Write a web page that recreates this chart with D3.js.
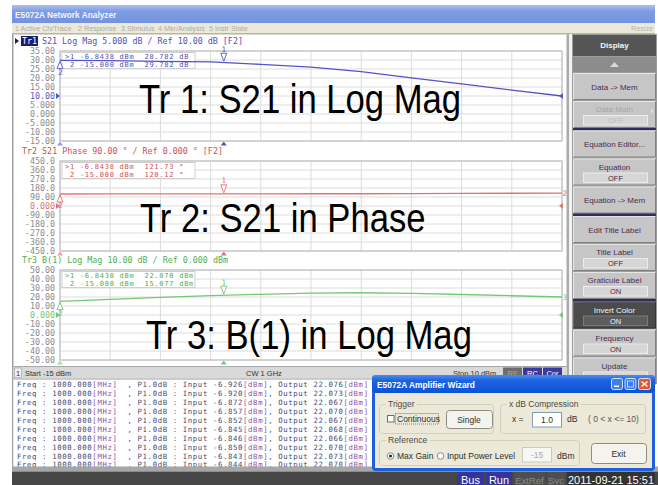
<!DOCTYPE html>
<html>
<head>
<meta charset="utf-8">
<script src="https://cdn.jsdelivr.net/npm/d3@7"></script>
<style>
body { margin: 0; background: #fff; }
svg { display: block; }
text { white-space: pre; }
</style>
</head>
<body>
<svg id="screen" width="658" height="485"></svg>
<script>
// sweep of input power (dBm) and trace values
var inputPower = [-15, -12.5, -10, -7.5, -5, -2.5, 0, 2.5, 5, 7.5, 10];
var s21Mag = [29.78, 29.6, 29.25, 28.95, 27.6, 26.0, 23.5, 20.1, 16.7, 13.3, 10.0];
var s21Phase = [120.1, 120.6, 121.1, 121.6, 122.0, 122.3, 122.6, 124.0, 126.0, 127.5, 128.5];
var b1Mag = [15.08, 17.4, 19.5, 21.6, 23.0, 24.2, 24.7, 24.1, 22.8, 21.4, 20.0];

// y tick labels, top to bottom
var tr1Labels = ['35.00', '30.00', '25.00', '20.00', '15.00', '10.00', '5.000', '0.000', '-5.000', '-10.00', '-15.00'];
var tr2Labels = ['450.0', '360.0', '270.0', '180.0', '90.00', '0.000', '-90.00', '-180.0', '-270.0', '-360.0', '-450.0'];
var tr3Labels = ['50.00', '40.00', '30.00', '20.00', '10.00', '0.000', '-10.00', '-20.00', '-30.00', '-40.00', '-50.00'];

// markers
var markerStim = [-6.8438, -15];
var markerStimLabels = ['-6.8438', '-15.000'];
var tr1Markers = ['28.782', '29.782'];
var tr2Markers = ['121.73', '120.12'];
var tr3Markers = ['22.070', '15.077'];

// P1dB log lines
var logFreq = ['1000.000', '1000.000', '1000.000', '1000.000', '1000.000', '1000.000', '1000.000', '1000.000', '1000.000', '1000.000'];
var logInput = ['-6.926', '-6.920', '-6.872', '-6.857', '-6.852', '-6.845', '-6.846', '-6.850', '-6.843', '-6.844'];
var logOutput = ['22.076', '22.073', '22.067', '22.070', '22.067', '22.068', '22.066', '22.070', '22.073', '22.070'];

var menuItems = ['1 Active Ch/Trace', '2 Response', '3 Stimulus', '4 Mkr/Analysis', '5 Instr State'];
var menuX = [15, 78, 121, 158, 209];

var softkeys = [
	{label: 'Data -> Mem'},
	{label: 'Data Math', value: 'OFF', disabled: true, sep: true},
	{label: 'Equation Editor...'},
	{label: 'Equation', value: 'OFF'},
	{label: 'Equation -> Mem', sep: true},
	{label: 'Edit Title Label'},
	{label: 'Title Label', value: 'OFF'},
	{label: 'Graticule Label', value: 'ON', sep: true},
	{label: 'Invert Color', value: 'ON', dark: true},
	{label: 'Frequency', value: 'ON'},
	{label: 'Update', value: 'ON'}
];

var mono = "'DejaVu Sans Mono', monospace";
var sans = "'Liberation Sans', Arial, sans-serif";

var svg = d3.select('#screen');
var defs = svg.append('defs');

var titleGrad = defs.append('linearGradient').attr('id', 'titleGrad').attr('x1', 0).attr('y1', 0).attr('x2', 0).attr('y2', 1);
titleGrad.append('stop').attr('offset', '0%').attr('stop-color', '#a9c0f0');
titleGrad.append('stop').attr('offset', '35%').attr('stop-color', '#7e9ce2');
titleGrad.append('stop').attr('offset', '100%').attr('stop-color', '#7393de');

var dlgGrad = defs.append('linearGradient').attr('id', 'dlgGrad').attr('x1', 0).attr('y1', 0).attr('x2', 0).attr('y2', 1);
dlgGrad.append('stop').attr('offset', '0%').attr('stop-color', '#4a8cf4');
dlgGrad.append('stop').attr('offset', '30%').attr('stop-color', '#1e63e0');
dlgGrad.append('stop').attr('offset', '100%').attr('stop-color', '#0b52d6');

// ---- window chrome ----
svg.append('rect').attr('width', 658).attr('height', 485).attr('fill', '#fff');

svg.append('rect').attr('x', 12).attr('y', 5).attr('width', 643).attr('height', 18).attr('fill', 'url(#titleGrad)');
svg.append('text').attr('x', 15).attr('y', 17.5).attr('font-family', sans).attr('font-weight', 'bold')
	.attr('font-size', 8.3).attr('fill', '#eef2fc').text('E5072A Network Analyzer');

svg.append('rect').attr('x', 12).attr('y', 23).attr('width', 643).attr('height', 10).attr('fill', '#ece9d8');
svg.selectAll('.menu').data(menuItems).enter().append('text')
	.attr('x', function(d, i) { return menuX[i]; })
	.attr('y', 31)
	.attr('font-family', sans).attr('font-size', 7.2).attr('fill', '#ababab')
	.text(function(d) { return d; });
svg.append('text').attr('x', 653).attr('y', 31).attr('text-anchor', 'end')
	.attr('font-family', sans).attr('font-size', 7.2).attr('fill', '#b4b4b4').text('Resize');
svg.append('rect').attr('x', 12).attr('y', 33).attr('width', 643).attr('height', 1.5).attr('fill', '#b8b5a8');

// left frame
svg.append('rect').attr('x', 12).attr('y', 34).attr('width', 1.5).attr('height', 437).attr('fill', '#a0a0a0');
// strip next to the softkeys
svg.append('rect').attr('x', 566.5).attr('y', 34).attr('width', 2.5).attr('height', 346).attr('fill', '#ababab');

// ---- traces ----
var x = d3.scaleLinear().domain([-15, 10]).range([60, 562]);
var xGrid = d3.range(-15, 10.01, 2.5);

var traces = [
	{name: 'Tr1', header: 'S21 Log Mag 5.000 dB / Ref 10.00 dB [F2]', top: 51, bottom: 141, max: 35, step: 5, ref: 10,
		labels: tr1Labels, values: s21Mag, markers: tr1Markers, unit: 'dB', color: '#5454c6', text: '#5252b4', light: '#9a9ae0',
		title: 'Tr 1: S21 in Log Mag', titleX: 139, titleY: 113, endLabel: ''},
	{name: 'Tr2', header: 'S21 Phase 90.00 \u00b0 / Ref 0.000 \u00b0 [F2]', top: 161, bottom: 251, max: 450, step: 90, ref: 0,
		labels: tr2Labels, values: s21Phase, markers: tr2Markers, unit: '\u00b0', color: '#e07474', text: '#cc5050', light: '#f0a0a0',
		title: 'Tr 2: S21 in Phase', titleX: 140, titleY: 232, endLabel: '2'},
	{name: 'Tr3', header: 'B(1) Log Mag 10.00 dB / Ref 0.000 dBm', top: 270, bottom: 360, max: 50, step: 10, ref: 0,
		labels: tr3Labels, values: b1Mag, markers: tr3Markers, unit: 'dBm', color: '#74c874', text: '#4fae4f', light: '#a8e0a8',
		title: 'Tr 3: B(1) in Log Mag', titleX: 146, titleY: 348.5, endLabel: '3'}
];

traces.forEach(function(tr, ti) {
	var y = d3.scaleLinear().domain([tr.max - 10 * tr.step, tr.max]).range([tr.bottom, tr.top]);
	var yVals = d3.range(11).map(function(i) { return tr.max - i * tr.step; });
	var g = svg.append('g');

	// header line
	var hy = tr.top - 7;
	if (ti === 0) {
		g.append('path').attr('d', 'M15,' + (hy - 6) + 'L19,' + (hy - 3) + 'L15,' + hy + 'Z').attr('fill', '#1c1c70');
		g.append('rect').attr('x', 21).attr('y', hy - 8).attr('width', 17).attr('height', 10).attr('fill', '#1c1c70');
		g.append('text').attr('x', 22).attr('y', hy).attr('font-family', mono).attr('font-size', 8.35)
			.attr('fill', '#fff').text(tr.name);
		g.append('text').attr('x', 42).attr('y', hy).attr('font-family', mono).attr('font-size', 8.35)
			.attr('fill', tr.text).text(tr.header);
	} else {
		g.append('text').attr('x', 22).attr('y', hy).attr('font-family', mono).attr('font-size', 8.35)
			.attr('fill', tr.text).text(tr.name + ' ' + tr.header);
	}

	// graticule
	g.selectAll('.hg').data(yVals).enter().append('line')
		.attr('x1', x(-15)).attr('x2', x(10))
		.attr('y1', function(d) { return y(d); }).attr('y2', function(d) { return y(d); })
		.attr('stroke', '#dcdcdc').attr('stroke-width', 1);
	g.selectAll('.vg').data(xGrid).enter().append('line')
		.attr('x1', function(d) { return x(d); }).attr('x2', function(d) { return x(d); })
		.attr('y1', tr.top).attr('y2', tr.bottom)
		.attr('stroke', '#dcdcdc').attr('stroke-width', 1);
	g.append('rect').attr('x', x(-15)).attr('y', tr.top).attr('width', x(10) - x(-15)).attr('height', tr.bottom - tr.top)
		.attr('fill', 'none').attr('stroke', '#b8b8b8');

	// y labels
	var axis = d3.axisLeft(y).tickValues(yVals)
		.tickFormat(function(d, i) { return tr.labels[i]; })
		.tickSize(0).tickPadding(0);
	var ax = g.append('g').attr('transform', 'translate(55,0)').call(axis);
	ax.select('.domain').remove();
	ax.attr('font-family', mono).attr('font-size', 8.35);
	ax.selectAll('text').attr('fill', function(d) { return d === tr.ref ? tr.color : '#8c8c8c'; });

	// reference arrows
	var yr = y(tr.ref);
	g.append('path').attr('d', 'M56,' + (yr - 3) + 'L60,' + yr + 'L56,' + (yr + 3) + 'Z').attr('fill', tr.color);
	g.append('path').attr('d', 'M563,' + (yr - 3) + 'L559,' + yr + 'L563,' + (yr + 3) + 'Z').attr('fill', tr.color);

	// marker readout
	g.append('rect').attr('x', 62).attr('y', tr.top + 1.5).attr('width', 133).attr('height', 16)
		.attr('fill', '#fff').attr('stroke', '#d0d0d0');
	tr.markers.forEach(function(m, i) {
		var prefix = i === 0 ? '>1 ' : ' 2 ';
		g.append('text').attr('x', 65).attr('y', tr.top + 7.8 + i * 8.3)
			.attr('font-family', mono).attr('font-size', 7).attr('letter-spacing', 0.75).attr('fill', tr.text)
			.text(prefix + markerStimLabels[i] + ' dBm  ' + m + ' ' + tr.unit);
	});

	// trace
	var line = d3.line()
		.x(function(d, i) { return x(inputPower[i]); })
		.y(function(d) { return y(d); });
	g.append('path').datum(tr.values).attr('d', line)
		.attr('fill', 'none').attr('stroke', tr.color).attr('stroke-width', 1.3);

	// markers on trace
	var m1x = x(markerStim[0]), m1y = y(+tr.markers[0]);
	g.append('path').attr('d', 'M' + (m1x - 3) + ',' + (m1y - 9) + 'L' + (m1x + 3) + ',' + (m1y - 9) + 'L' + m1x + ',' + (m1y - 1) + 'Z')
		.attr('fill', '#fff').attr('stroke', tr.color).attr('stroke-width', 0.9);
	g.append('text').attr('x', m1x).attr('y', m1y - 10.5).attr('text-anchor', 'middle')
		.attr('font-family', mono).attr('font-size', 7.5).attr('fill', tr.color).text('1');
	var m2x = x(markerStim[1]), m2y = y(+tr.markers[1]);
	g.append('path').attr('d', 'M' + (m2x - 3) + ',' + (m2y + 8) + 'L' + (m2x + 3) + ',' + (m2y + 8) + 'L' + m2x + ',' + (m2y + 1) + 'Z')
		.attr('fill', '#fff').attr('stroke', tr.color).attr('stroke-width', 0.9);
	g.append('text').attr('x', m2x + 0.5).attr('y', m2y + 14.5).attr('text-anchor', 'middle')
		.attr('font-family', mono).attr('font-size', 7.5).attr('fill', tr.color).text('2');

	// stimulus markers under the graticule
	markerStim.forEach(function(s, i) {
		var sx = x(s);
		g.append('path').attr('d', 'M' + (sx - 3) + ',' + (tr.bottom + 4.5) + 'L' + (sx + 3) + ',' + (tr.bottom + 4.5) + 'L' + sx + ',' + (tr.bottom + 0.5) + 'Z')
			.attr('fill', i === 0 ? tr.color : tr.light);
	});

	// trace number at the right end
	if (tr.endLabel) {
		g.append('text').attr('x', 562.5).attr('y', y(tr.values[tr.values.length - 1]) + 3)
			.attr('font-family', mono).attr('font-size', 7.5).attr('fill', tr.color).text(tr.endLabel);
	}

	// big caption
	g.append('text').attr('transform', 'translate(' + tr.titleX + ',' + tr.titleY + ') scale(0.845,1)')
		.attr('font-family', sans).attr('font-size', 41).attr('fill', '#000').text(tr.title);
});

// ---- status bar ----
svg.append('rect').attr('x', 13.5).attr('y', 366.5).attr('width', 553).attr('height', 12).attr('fill', '#d9d9d9');
svg.append('line').attr('x1', 13.5).attr('x2', 566.5).attr('y1', 366.5).attr('y2', 366.5).attr('stroke', '#a8a8a8');
svg.append('rect').attr('x', 14.5).attr('y', 368).attr('width', 7).attr('height', 9.5).attr('fill', '#f0f0f0').attr('stroke', '#9a9a9a').attr('stroke-width', 0.6);
svg.append('text').attr('x', 18).attr('y', 375.5).attr('text-anchor', 'middle').attr('font-family', sans).attr('font-size', 7.5).attr('fill', '#333').text('1');
svg.append('text').attr('x', 25).attr('y', 375.5).attr('font-family', sans).attr('font-size', 7.5).attr('fill', '#333').text('Start -15 dBm');
svg.append('text').attr('x', 246).attr('y', 375.5).attr('font-family', sans).attr('font-size', 7.5).attr('fill', '#333').text('CW 1 GHz');
svg.append('text').attr('x', 453).attr('y', 375.5).attr('font-family', sans).attr('font-size', 7.5).attr('fill', '#333').text('Stop 10 dBm');
var statusBoxes = [{t: 'RF', x: 503, fill: '#6e6e6e', c: '#a8a8a8'}, {t: 'RC', x: 523, fill: '#3a3a9c', c: '#fff'}, {t: 'Cor', x: 543, fill: '#3a3a9c', c: '#fff'}];
statusBoxes.forEach(function(b) {
	svg.append('rect').attr('x', b.x).attr('y', 367.5).attr('width', 19).attr('height', 10.5).attr('fill', b.fill);
	svg.append('text').attr('x', b.x + 9.5).attr('y', 375.5).attr('text-anchor', 'middle')
		.attr('font-family', sans).attr('font-size', 7.5).attr('fill', b.c).text(b.t);
});

// ---- P1dB log box ----
svg.append('rect').attr('x', 13.5).attr('y', 378.5).attr('width', 557).attr('height', 88).attr('fill', '#fff');
svg.append('line').attr('x1', 13.5).attr('x2', 570).attr('y1', 379).attr('y2', 379).attr('stroke', '#9c9c9c');
logInput.forEach(function(v, i) {
	var t = svg.append('text').attr('x', 17).attr('y', 387.3 + i * 8.9)
		.attr('font-family', mono).attr('font-size', 7.3).attr('letter-spacing', 0.63).attr('fill', '#3f4a74');
	t.append('tspan').text('Freq : ' + logFreq[i]);
	t.append('tspan').attr('fill', '#9050a0').text('[MHz]');
	t.append('tspan').text('  , P1.0dB : Input ' + v);
	t.append('tspan').attr('fill', '#9050a0').text('[dBm]');
	t.append('tspan').text(', Output ' + logOutput[i]);
	t.append('tspan').attr('fill', '#9050a0').text('[dBm]');
});
svg.append('rect').attr('x', 12).attr('y', 466.5).attr('width', 646).attr('height', 5).attr('fill', '#a6a6a6');
svg.append('rect').attr('x', 12).attr('y', 471.5).attr('width', 646).attr('height', 13.5).attr('fill', '#474747');

// bottom status items
var bottomItems = [
	{t: 'Bus', x: 457, w: 27, fill: '#34349a', c: '#fff', fs: 11},
	{t: 'Run', x: 486, w: 26, fill: '#34349a', c: '#fff', fs: 11},
	{t: 'ExtRef', x: 514, w: 31, fill: '#4f4f4f', c: '#8a8a8a', fs: 9.5},
	{t: 'Svc', x: 547, w: 18, fill: '#4f4f4f', c: '#8a8a8a', fs: 9.5},
	{t: '2011-09-21 15:51', x: 567, w: 88, fill: '#333', c: '#fff', fs: 11}
];
bottomItems.forEach(function(b) {
	svg.append('rect').attr('x', b.x).attr('y', 472).attr('width', b.w).attr('height', 13).attr('fill', b.fill);
	svg.append('text').attr('x', b.x + b.w / 2).attr('y', 483.5).attr('text-anchor', 'middle')
		.attr('font-family', sans).attr('font-size', b.fs).attr('fill', b.c).text(b.t);
});

// ---- softkey panel ----
svg.append('rect').attr('x', 570).attr('y', 34).attr('width', 87).attr('height', 350).attr('fill', '#9e9e9e');
svg.append('rect').attr('x', 569).attr('y', 34).attr('width', 3).attr('height', 350).attr('fill', '#f2f2f2');
svg.append('rect').attr('x', 573).attr('y', 35).attr('width', 83).attr('height', 21).attr('fill', '#555');
svg.append('text').attr('x', 614.5).attr('y', 48).attr('text-anchor', 'middle').attr('font-family', sans)
	.attr('font-weight', 'bold').attr('font-size', 8).attr('fill', '#f4f4f4').text('Display');
svg.append('rect').attr('x', 573).attr('y', 57).attr('width', 83).attr('height', 15).attr('fill', '#8c8c8c');
svg.append('path').attr('d', 'M610,67L614.5,62L619,67Z').attr('fill', '#d8d8d8');

var skY = 73;
softkeys.forEach(function(k) {
	var g = svg.append('g').attr('transform', 'translate(573,' + skY + ')');
	g.append('rect').attr('width', 83).attr('height', 27).attr('fill', k.dark ? '#4b4b4b' : '#c6c6c6');
	g.append('path').attr('d', 'M0.5,27V0.5H83').attr('fill', 'none').attr('stroke', k.dark ? '#6a6a6a' : '#e6e6e6');
	g.append('path').attr('d', 'M0.5,26.5H82.5V0.5').attr('fill', 'none').attr('stroke', k.dark ? '#333' : '#808080');
	var labelColor = k.dark ? '#f4f4f4' : (k.disabled ? '#a6a6a6' : '#4a2c4c');
	if (k.value) {
		g.append('text').attr('x', 41.5).attr('y', 11).attr('text-anchor', 'middle').attr('font-family', sans)
			.attr('font-size', 8).attr('fill', labelColor).text(k.label);
		g.append('rect').attr('x', 10.5).attr('y', 14.5).attr('width', 64).attr('height', 9.5)
			.attr('fill', k.dark ? '#5c5c5c' : '#d6d6d6').attr('stroke', k.dark ? '#7a7a7a' : '#ececec');
		g.append('text').attr('x', 42.5).attr('y', 22.2).attr('text-anchor', 'middle').attr('font-family', sans)
			.attr('font-size', 7.5).attr('fill', k.dark ? '#f4f4f4' : (k.disabled ? '#bdbdbd' : '#4a2c4c')).text(k.value);
		if (k.disabled) {
			g.append('path').attr('d', 'M78,7L81,10L78,13Z').attr('fill', '#dcdcdc');
		}
	} else {
		g.append('text').attr('x', 41.5).attr('y', 16.5).attr('text-anchor', 'middle').attr('font-family', sans)
			.attr('font-size', 8).attr('fill', labelColor).text(k.label);
	}
	skY += 28;
	if (k.sep) {
		svg.append('rect').attr('x', 573).attr('y', skY - 1).attr('width', 83).attr('height', 2.5).attr('fill', '#2e2e5c');
		skY += 1.5;
	}
});

// ---- amplifier wizard dialog ----
var dlg = svg.append('g');
var dlgFont = 8.5, dlgText = '#2e2e2e';
dlg.append('rect').attr('x', 372).attr('y', 375).attr('width', 283).attr('height', 96).attr('rx', 4).attr('fill', '#1f5fdc');
dlg.append('rect').attr('x', 372).attr('y', 375).attr('width', 283).attr('height', 18).attr('rx', 4).attr('fill', 'url(#dlgGrad)');
dlg.append('rect').attr('x', 375).attr('y', 393).attr('width', 277).attr('height', 75).attr('fill', '#ece9d8');
dlg.append('text').attr('x', 377).attr('y', 387.5).attr('font-family', sans).attr('font-weight', 'bold')
	.attr('font-size', 8.4).attr('fill', '#fff').text('E5072A Amplifier Wizard');

// caption buttons
dlg.append('rect').attr('x', 611.5).attr('y', 378.5).attr('width', 11).attr('height', 11).attr('rx', 2)
	.attr('fill', '#3b7ef2').attr('stroke', '#fff').attr('stroke-width', 0.8);
dlg.append('rect').attr('x', 614).attr('y', 385.5).attr('width', 5).attr('height', 1.6).attr('fill', '#fff');
dlg.append('rect').attr('x', 625).attr('y', 378.5).attr('width', 11).attr('height', 11).attr('rx', 2)
	.attr('fill', '#3b7ef2').attr('stroke', '#fff').attr('stroke-width', 0.8);
dlg.append('rect').attr('x', 627.5).attr('y', 381).attr('width', 6).attr('height', 6).attr('fill', 'none')
	.attr('stroke', '#d8e4fc').attr('stroke-width', 0.8);
dlg.append('rect').attr('x', 638.5).attr('y', 378.5).attr('width', 12).attr('height', 11).attr('rx', 2)
	.attr('fill', '#e0582e').attr('stroke', '#fff').attr('stroke-width', 0.8);
dlg.append('path').attr('d', 'M641.5,381.5L647.5,386.5M647.5,381.5L641.5,386.5').attr('stroke', '#fff').attr('stroke-width', 1.4);

function groupBox(x0, y0, w, h, label) {
	dlg.append('rect').attr('x', x0 + 0.5).attr('y', y0 + 0.5).attr('width', w).attr('height', h).attr('rx', 3)
		.attr('fill', 'none').attr('stroke', '#d0d0bf');
	var t = dlg.append('text').attr('x', x0 + 9).attr('y', y0 + 3).attr('font-family', sans)
		.attr('font-size', dlgFont).attr('fill', '#4a4a4a').text(label);
	var bb = t.node().getBBox();
	dlg.insert('rect', function() { return t.node(); })
		.attr('x', bb.x - 2).attr('y', bb.y).attr('width', bb.width + 4).attr('height', bb.height).attr('fill', '#ece9d8');
}

function button(x0, y0, w, h, label) {
	dlg.append('rect').attr('x', x0 + 0.5).attr('y', y0 + 0.5).attr('width', w).attr('height', h).attr('rx', 3)
		.attr('fill', '#f4f3ee').attr('stroke', '#8c8c80');
	dlg.append('text').attr('x', x0 + w / 2).attr('y', y0 + h / 2 + 3.5).attr('text-anchor', 'middle')
		.attr('font-family', sans).attr('font-size', dlgFont).attr('fill', dlgText).text(label);
}

function label(x0, y0, txt, color) {
	dlg.append('text').attr('x', x0).attr('y', y0).attr('font-family', sans).attr('font-size', dlgFont)
		.attr('fill', color || dlgText).text(txt);
}

// Trigger
groupBox(379, 404, 114, 29, 'Trigger');
dlg.append('rect').attr('x', 387.5).attr('y', 415.5).attr('width', 6.5).attr('height', 6.5).attr('fill', '#fff').attr('stroke', '#6a6a6a');
dlg.append('rect').attr('x', 395.5).attr('y', 413.5).attr('width', 43).attr('height', 10.5).attr('fill', 'none')
	.attr('stroke', '#333').attr('stroke-width', 0.6).attr('stroke-dasharray', '1,1');
label(397, 421.5, 'Continuous');
button(446, 410, 46, 18, 'Single');

// x dB Compression
groupBox(500, 404, 145, 29, 'x dB Compression');
label(512, 422, 'x =');
dlg.append('rect').attr('x', 532.5).attr('y', 412.5).attr('width', 29).attr('height', 14.5).attr('fill', '#fff').attr('stroke', '#7f9db9');
dlg.append('text').attr('x', 547).attr('y', 422.5).attr('text-anchor', 'middle').attr('font-family', sans)
	.attr('font-size', dlgFont).attr('fill', dlgText).text('1.0');
label(567, 422, 'dB');
label(588, 422, '( 0 < x <= 10)', '#555');

// Reference
groupBox(379, 440, 200, 25, 'Reference');
dlg.append('circle').attr('cx', 390.5).attr('cy', 456).attr('r', 3.3).attr('fill', '#fff').attr('stroke', '#8a8a8a');
dlg.append('circle').attr('cx', 390.5).attr('cy', 456).attr('r', 1.5).attr('fill', '#222');
label(397, 459, 'Max Gain');
dlg.append('circle').attr('cx', 440.5).attr('cy', 456).attr('r', 3.3).attr('fill', '#fff').attr('stroke', '#8a8a8a');
label(447, 459, 'Input Power Level');
dlg.append('rect').attr('x', 522.5).attr('y', 447.5).attr('width', 29).attr('height', 14.5).attr('fill', '#f7f7f3').attr('stroke', '#cacac0');
dlg.append('text').attr('x', 537).attr('y', 457.5).attr('text-anchor', 'middle').attr('font-family', sans)
	.attr('font-size', dlgFont).attr('fill', '#a8a8a8').text('-15');
label(557, 459, 'dBm');

button(591, 443, 55, 20, 'Exit');
</script>
</body>
</html>
